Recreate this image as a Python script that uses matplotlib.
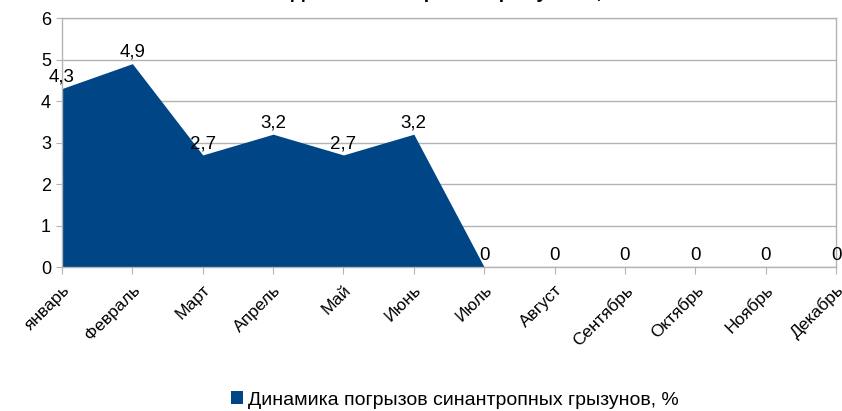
import matplotlib

matplotlib.use('Agg')
import matplotlib.pyplot as plt
from matplotlib.patches import Patch

plt.rcParams['font.family'] = ['Liberation Sans', 'DejaVu Sans']

# --- data ---
months = ['январь', 'Февраль', 'Март', 'Апрель', 'Май', 'Июнь',
          'Июль', 'Август', 'Сентябрь', 'Октябрь', 'Ноябрь', 'Декабрь']
values = [4.3, 4.9, 2.7, 3.2, 2.7, 3.2, 0, 0, 0, 0, 0, 0]
series_name = 'Динамика погрызов синантропных грызунов, %'
title = 'Динамика погрызов грызунами, %'

fill_color = '#004586'
grid_color = '#b3b3b3'

fig = plt.figure(figsize=(8.42, 4.11), dpi=100)
ax = fig.add_axes([62 / 842, 1 - 267 / 411, (836 - 62) / 842, (267 - 18) / 411])

x = list(range(len(months)))
ax.fill_between(x, values, 0, color=fill_color, linewidth=0, zorder=2)

# data labels above each point
for xi, v in zip(x, values):
    lbl = ('%g' % v).replace('.', ',')
    ax.annotate(lbl, (xi, v), xytext=(0, 2), textcoords='offset points',
                ha='center', va='bottom', fontsize=13.5, color='black', zorder=3)

ax.set_xlim(0, len(months) - 1)
ax.set_ylim(0, 6)
ax.set_yticks(range(0, 7))
ax.set_xticks(x)
ax.set_xticklabels(months, rotation=45, ha='right', rotation_mode='anchor', fontsize=12.5)
ax.tick_params(axis='y', labelsize=13, length=4, color=grid_color, pad=4)
ax.tick_params(axis='x', length=5, color=grid_color, pad=6)

ax.grid(axis='y', color=grid_color, linewidth=1, zorder=0)
ax.set_axisbelow(True)
for s in ax.spines.values():
    s.set_color(grid_color)
    s.set_linewidth(1)

# title sits mostly above the canvas, as in the source image
fig.text(458 / 842, 1.004, title, ha='center', va='baseline',
         fontsize=14, fontweight='bold')

handle = Patch(facecolor=fill_color, edgecolor='none')
fig.legend([handle], [series_name], loc='center', bbox_to_anchor=(455 / 842, 11 / 411),
           frameon=False, fontsize=14, handlelength=0.6, handleheight=0.6,
           handletextpad=0.3)

fig.savefig('out.png', dpi=100)
